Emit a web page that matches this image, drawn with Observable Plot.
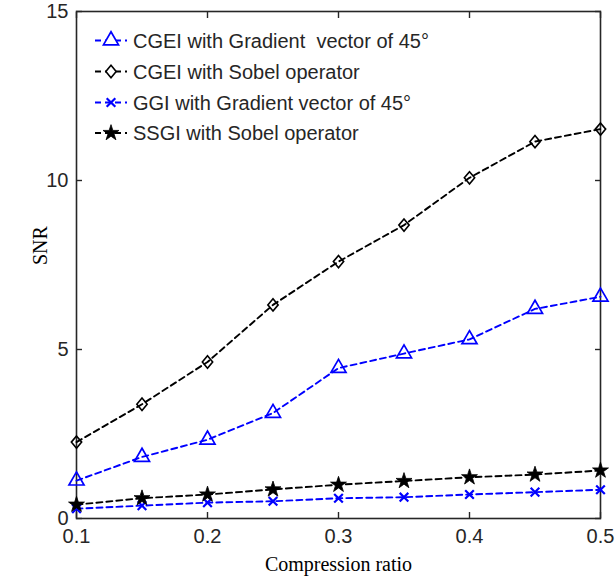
<!DOCTYPE html>
<html>
<head>
<meta charset="utf-8">
<script src="https://cdn.jsdelivr.net/npm/d3@7"></script>
<script src="https://cdn.jsdelivr.net/npm/@observablehq/plot@0.6"></script>
<style>
  html, body { margin: 0; padding: 0; background: #fff; }
  #chart svg { display: block; }
</style>
</head>
<body>
<div id="chart"></div>
<script>
// ---- data ----
const ratios = [0.1, 0.15, 0.2, 0.25, 0.3, 0.35, 0.4, 0.45, 0.5];
const cgeiGradient = [1.12, 1.82, 2.33, 3.12, 4.45, 4.88, 5.3, 6.2, 6.56];
const cgeiSobel = [2.26, 3.38, 4.63, 6.32, 7.6, 8.68, 10.08, 11.15, 11.52];
const ggiGradient = [0.29, 0.38, 0.47, 0.51, 0.6, 0.63, 0.71, 0.78, 0.85];
const ssgiSobel = [0.41, 0.6, 0.71, 0.86, 1.0, 1.11, 1.22, 1.3, 1.42];
const seriesNames = [
  "CGEI with Gradient  vector of 45°",
  "CGEI with Sobel operator",
  "GGI with Gradient vector of 45°",
  "SSGI with Sobel operator"
];
const xTicks = [0.1, 0.2, 0.3, 0.4, 0.5];
const yTicks = [0, 5, 10, 15];

// custom MATLAB-like diamond (slightly taller than wide)
const diamondSym = {
  draw(ctx, size) {
    const s = Math.sqrt(size);
    const h = s * 0.62, w = s * 0.52;
    ctx.moveTo(0, -h); ctx.lineTo(w, 0); ctx.lineTo(0, h); ctx.lineTo(-w, 0); ctx.closePath();
  }
};

const styles = [
  {values: cgeiGradient, color: "#0000ff", symbol: "triangle", r: 5.6, fill: "none", sw: 1.7},
  {values: cgeiSobel, color: "#000000", symbol: diamondSym, r: 5.6, fill: "none", sw: 1.6},
  {values: ggiGradient, color: "#0000ff", symbol: "times", r: 4.0, fill: "none", sw: 2.2},
  {values: ssgiSobel, color: "#000000", symbol: "star", r: 5.0, fill: "#000000", sw: 0.8}
];

const rows = [];
styles.forEach((s, i) => {
  ratios.forEach((x, j) => rows.push({series: seriesNames[i], x, y: s.values[j], idx: i}));
});

const axisColor = "#262626";
const font = "'Liberation Sans', Arial, Helvetica, sans-serif";
const tk = 6;

const marks = [];
styles.forEach((s, i) => {
  const d = rows.filter(r => r.idx === i);
  marks.push(Plot.line(d, {x: "x", y: "y", stroke: s.color, strokeWidth: 1.9, strokeDasharray: "6,4"}));
});
styles.forEach((s, i) => {
  const d = rows.filter(r => r.idx === i);
  marks.push(Plot.dot(d, {x: "x", y: "y", symbol: () => s.symbol, r: s.r, stroke: s.color, fill: s.fill, strokeWidth: s.sw}));
});

const chart = Plot.plot({
  width: 615,
  height: 583,
  marginLeft: 76,
  marginRight: 15,
  marginTop: 11,
  marginBottom: 65,
  style: {fontFamily: font, fontSize: "20px", color: axisColor, background: "#fff"},
  symbol: {type: "identity"},
  x: {domain: [0.1, 0.5], label: null},
  y: {domain: [0, 15], label: null},
  marks: [
    // labels
    Plot.axisX(xTicks, {anchor: "bottom", tickSize: 0, tickPadding: 10, tickFormat: d3.format(".1f"), fill: axisColor, fontSize: 20}),
    Plot.axisY(yTicks, {anchor: "left", tickSize: 0, tickPadding: 8, tickFormat: d3.format("d"), fill: axisColor, fontSize: 20}),
    // inward ticks on all sides (shifted back into the frame)
    Plot.axisX(xTicks, {anchor: "bottom", tickSize: tk, dy: -tk, tickFormat: () => "", stroke: axisColor, strokeWidth: 1.4}),
    Plot.axisX(xTicks, {anchor: "top", tickSize: tk, dy: tk, tickFormat: () => "", stroke: axisColor, strokeWidth: 1.4}),
    Plot.axisY(yTicks, {anchor: "left", tickSize: tk, dx: tk, tickFormat: () => "", stroke: axisColor, strokeWidth: 1.4}),
    Plot.axisY(yTicks, {anchor: "right", tickSize: tk, dx: -tk, tickFormat: () => "", stroke: axisColor, strokeWidth: 1.4}),
    Plot.frame({stroke: axisColor, strokeWidth: 1.6}),
    ...marks,
    Plot.text(["Compression ratio"], {frameAnchor: "bottom", dy: 52, fontFamily: "'Liberation Serif', 'Times New Roman', serif", fontSize: 20, fill: "#000"}),
    Plot.text(["SNR"], {frameAnchor: "left", dx: -36, rotate: -90, fontFamily: "'Liberation Serif', 'Times New Roman', serif", fontSize: 20, fill: "#000"})
  ]
});

// ---- legend (inside plot area, top-left) ----
const svg = d3.select(chart);
const lg = svg.append("g").attr("class", "legend").attr("text-anchor", "start");
const legendX0 = 95, legendX1 = 127, legendTextX = 133;
const legendY = [40.5, 71.5, 102.5, 133];
const symMap = {triangle: d3.symbolTriangle, times: d3.symbolTimes, star: d3.symbolStar};
styles.forEach((s, i) => {
  const y = legendY[i];
  lg.append("line")
    .attr("x1", legendX0).attr("x2", legendX1).attr("y1", y).attr("y2", y)
    .attr("stroke", s.color).attr("stroke-width", 1.9).attr("stroke-dasharray", "6,4");
  const symType = typeof s.symbol === "string" ? symMap[s.symbol] : s.symbol;
  lg.append("path")
    .attr("d", d3.symbol(symType, Math.PI * s.r * s.r)())
    .attr("transform", `translate(${(legendX0 + legendX1) / 2},${y})`)
    .attr("fill", s.fill === "none" ? "#fff" : s.fill)
    .attr("stroke", s.color).attr("stroke-width", s.sw);
  lg.append("text")
    .attr("x", legendTextX).attr("y", y).attr("dy", "0.35em")
    .attr("text-anchor", "start")
    .attr("fill", axisColor)
    .style("font-family", font).style("font-size", "20px")
    .style("white-space", "pre")
    .attr("xml:space", "preserve")
    .text(seriesNames[i]);
});

document.getElementById("chart").appendChild(chart);
</script>
</body>
</html>
